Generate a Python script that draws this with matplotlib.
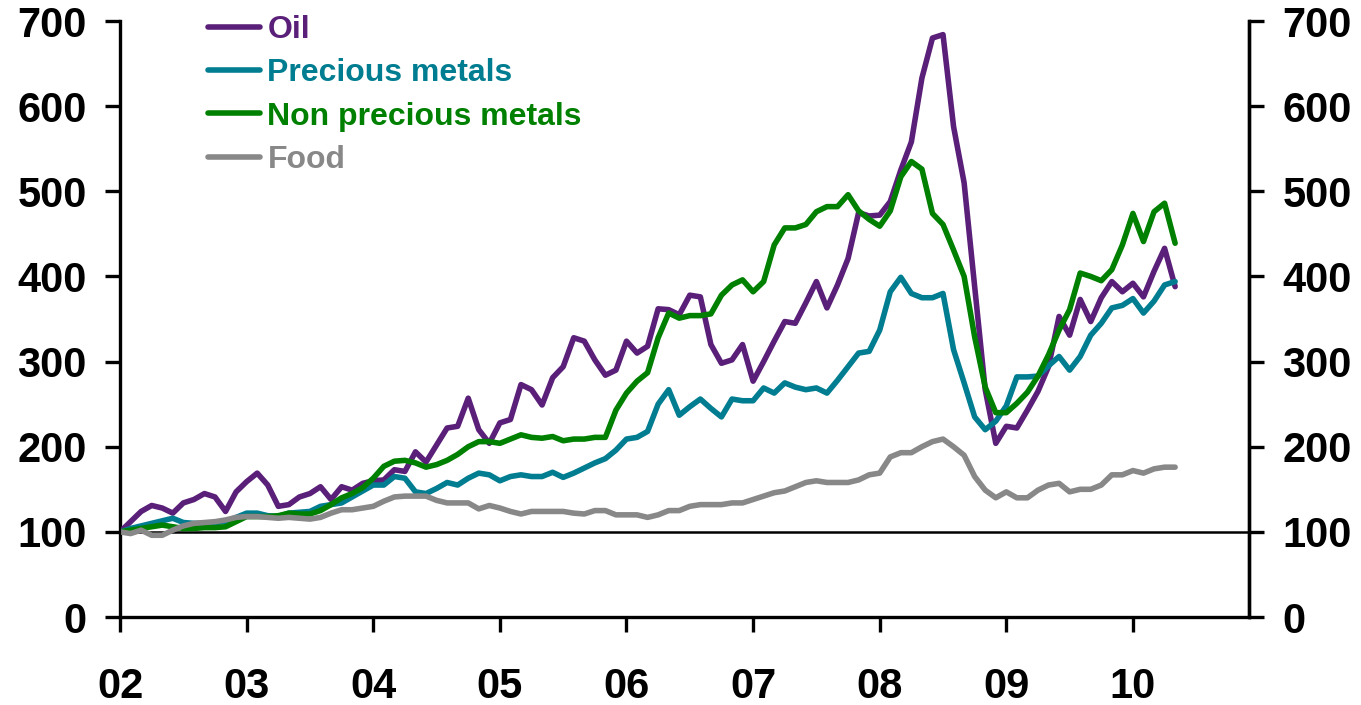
import numpy as np
import matplotlib
matplotlib.use("Agg")
import matplotlib.pyplot as plt

plt.rcParams['font.family'] = ['Liberation Sans', 'DejaVu Sans']
plt.rcParams['font.weight'] = 'bold'

# Monthly index values, Jan 2002 = 100, through May 2010
oil = [100, 112, 124, 131, 128, 122, 134, 138, 145, 141, 124, 147,
       159, 169, 155, 130, 132, 141, 145, 153, 138, 153, 149, 157,
       160, 161, 173, 171, 194, 182, 202, 222, 224, 257, 220, 204,
       228, 232, 273, 267, 249, 281, 294, 328, 324, 302, 284, 290,
       324, 310, 318, 362, 361, 355, 378, 376, 320, 298, 302, 320,
       277, 300, 324, 347, 345, 369, 394, 363, 390, 421, 475, 471,
       472, 488, 525, 558, 633, 680, 684, 576, 510, 388, 267, 204,
       224, 222, 243, 265, 294, 353, 331, 373, 347, 375, 394, 382,
       392, 376, 406, 433, 388]
precious = [100, 104, 107, 110, 113, 116, 111, 110, 110, 111, 112, 117,
            122, 122, 119, 118, 122, 123, 124, 130, 132, 134, 141, 148,
            155, 155, 165, 163, 147, 145, 151, 158, 155, 163, 169, 167,
            160, 165, 167, 165, 165, 170, 164, 169, 175, 181, 186, 196,
            209, 211, 218, 250, 267, 237, 247, 256, 245, 235, 256, 254,
            254, 269, 263, 275, 270, 267, 269, 263, 278, 294, 310, 312,
            337, 382, 399, 380, 375, 375, 380, 314, 275, 235, 220, 230,
            248, 282, 282, 283, 295, 306, 290, 306, 331, 345, 363, 366,
            374, 357, 371, 390, 394]
non_precious = [100, 102, 104, 106, 108, 106, 104, 104, 105, 105, 106, 112,
                118, 118, 118, 119, 122, 121, 121, 125, 132, 140, 145, 152,
                163, 177, 183, 184, 181, 176, 179, 184, 191, 200, 206, 206,
                204, 209, 214, 211, 210, 212, 207, 209, 209, 211, 211, 243,
                263, 277, 287, 328, 357, 351, 354, 354, 356, 378, 390, 396,
                382, 394, 437, 457, 457, 461, 476, 482, 482, 496, 477, 467,
                459, 477, 517, 535, 526, 474, 461, 431, 400, 329, 270, 240,
                240, 251, 264, 283, 308, 337, 361, 404, 400, 395, 408, 437,
                474, 441, 476, 486, 439]
food = [100, 98, 102, 96, 96, 102, 107, 110, 111, 112, 114, 117,
        118, 118, 117, 116, 117, 116, 115, 117, 122, 126, 126, 128,
        130, 136, 141, 142, 142, 142, 137, 134, 134, 134, 127, 131,
        128, 124, 121, 124, 124, 124, 124, 122, 121, 125, 125, 120,
        120, 120, 117, 120, 125, 125, 130, 132, 132, 132, 134, 134,
        138, 142, 146, 148, 153, 158, 160, 158, 158, 158, 161, 167,
        169, 188, 193, 193, 200, 206, 209, 200, 190, 165, 149, 140,
        147, 140, 140, 149, 155, 157, 147, 150, 150, 155, 167, 167,
        172, 169, 174, 176, 176]

year_labels = ['02', '03', '04', '05', '06', '07', '08', '09', '10']
y_ticks = [0, 100, 200, 300, 400, 500, 600, 700]

series = [
    ('Oil', oil, '#5a1f78'),
    ('Precious metals', precious, '#007d90'),
    ('Non precious metals', non_precious, '#008000'),
    ('Food', food, '#888888'),
]

months = np.arange(len(oil))

fig = plt.figure(figsize=(13.61, 7.05), dpi=100)
ax = fig.add_axes([0.0882, 0.1248, 0.8295, 0.8454])

ax.axhline(100, color='black', lw=1.8, zorder=1)
for name, vals, col in series:
    ax.plot(months, vals, color=col, lw=4.0, label=name, zorder=3,
            solid_capstyle='round')

ax.set_xlim(0, 107)
ax.set_ylim(0, 700)
ax.set_xticks(np.arange(0, 12 * len(year_labels), 12))
ax.set_xticklabels(year_labels)
ax.set_yticks(y_ticks)

for side in ['left', 'right', 'bottom']:
    ax.spines[side].set_linewidth(2.4)
ax.spines['top'].set_visible(False)

ax.tick_params(axis='both', direction='out', length=11, width=2.4,
               labelsize=30)
ax.tick_params(axis='y', pad=13)
ax.tick_params(axis='x', pad=25)

ax2 = ax.twinx()
ax2.set_ylim(0, 700)
ax2.set_yticks(y_ticks)
ax2.spines['top'].set_visible(False)
ax2.spines['right'].set_linewidth(2.4)
ax2.tick_params(axis='y', direction='out', length=11, width=2.4,
                labelsize=30, pad=13)

for t in ax.get_xticklabels() + ax.get_yticklabels() + ax2.get_yticklabels():
    t.set_fontweight('bold')

leg = ax.legend(loc='upper left', bbox_to_anchor=(0.1526, 0.979),
                bbox_transform=fig.transFigure, frameon=False,
                fontsize=23, handlelength=1.65, handletextpad=0.22,
                labelspacing=0.42, borderaxespad=0, borderpad=0,
                labelcolor='linecolor')
for t in leg.get_texts():
    t.set_fontweight('bold')

fig.savefig('out.png', dpi=100)
